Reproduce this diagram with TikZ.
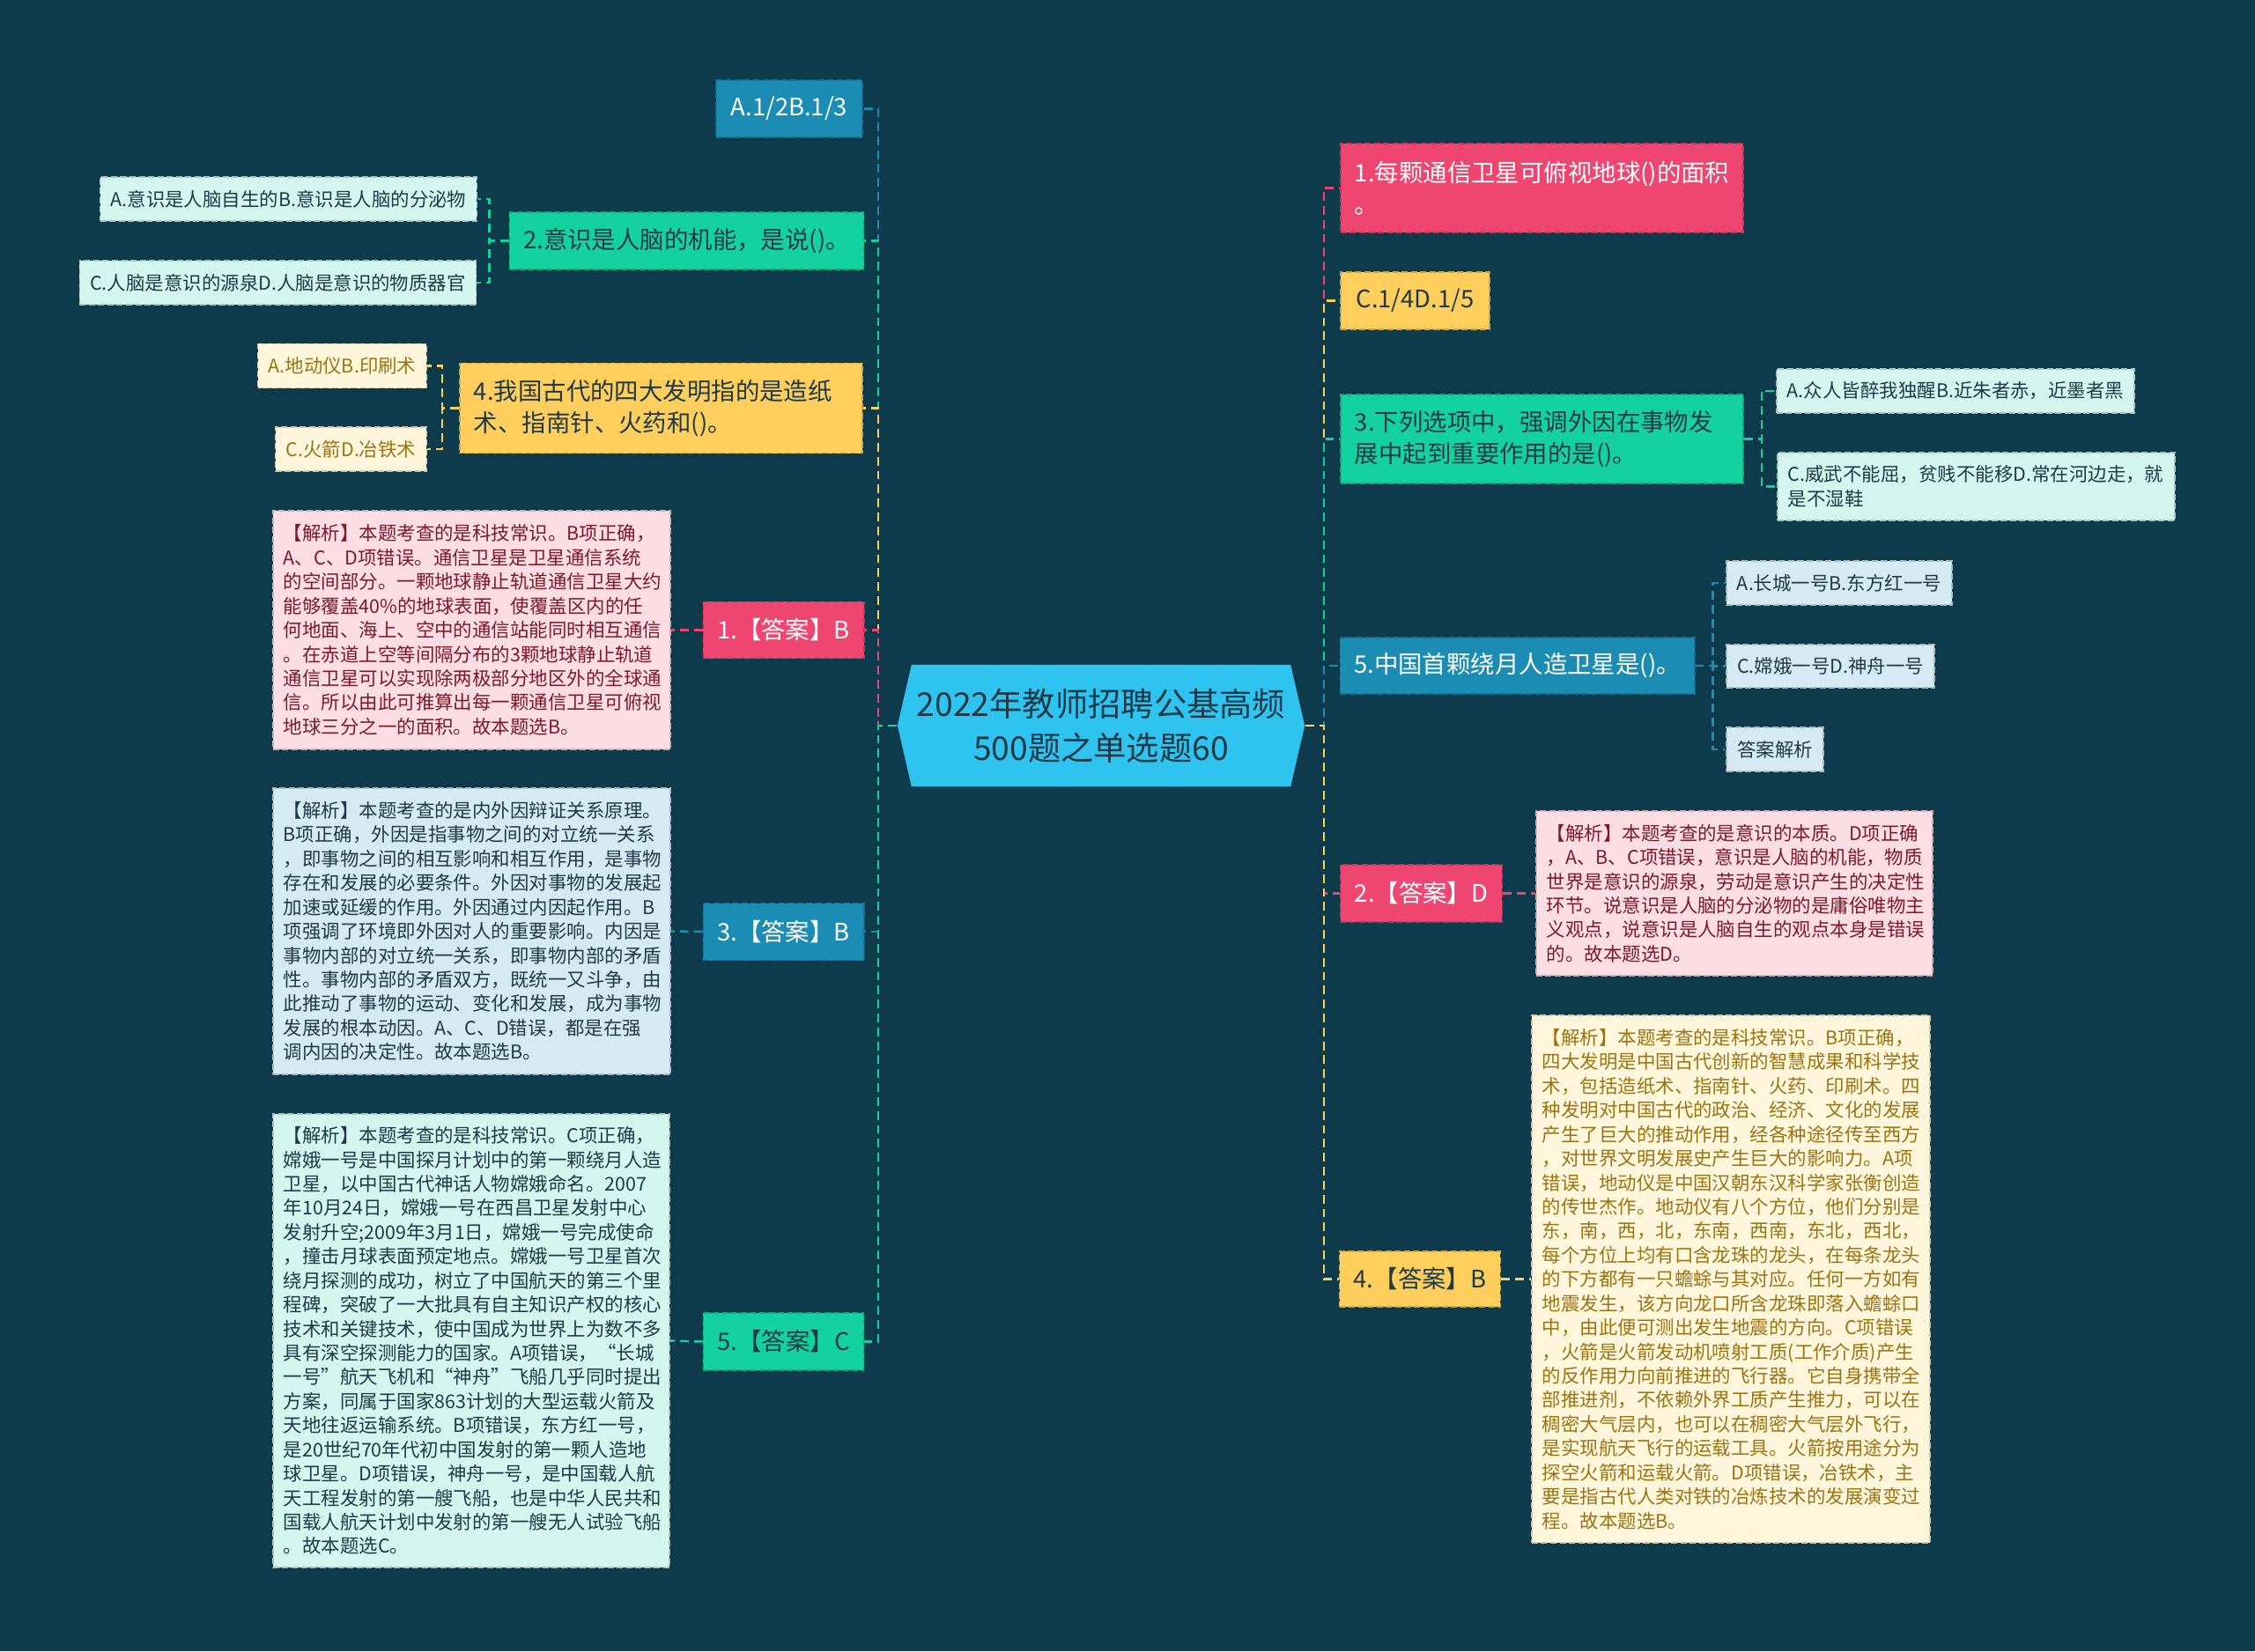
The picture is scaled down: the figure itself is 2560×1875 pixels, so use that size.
\documentclass[tikz,border=0pt]{standalone}
\usepackage{fontspec}
\setmainfont{Noto Sans CJK SC}
\usepackage{xcolor}
\usetikzlibrary{shapes.symbols}

\definecolor{bgc}{HTML}{0E3B4C}
\definecolor{skyc}{HTML}{2FC4F0}
\definecolor{bluec}{HTML}{1B8CB3}
\definecolor{greenc}{HTML}{14D29F}
\definecolor{yellowc}{HTML}{FFCF5E}
\definecolor{pinkc}{HTML}{EE4670}
\definecolor{mintc}{HTML}{D3F6EE}
\definecolor{lbluec}{HTML}{D4EBF3}
\definecolor{lpinkc}{HTML}{FCDDE4}
\definecolor{creamc}{HTML}{FFF6DC}
\definecolor{inkc}{HTML}{1F3947}
\definecolor{redc}{HTML}{7A1A2C}
\definecolor{brownc}{HTML}{9B7412}

\begin{document}
\begin{tikzpicture}[
  x=0.01cm, y=-0.01cm,
  root/.style    = {shape=signal, signal to=west and east, signal pointer angle=154,
                    fill=skyc, text=inkc, align=center, inner sep=0pt,
                    font=\fontsize{10.6pt}{14.2pt}\selectfont,
                    minimum width=4.62cm, minimum height=1.38cm},
  box/.style     = {rectangle, fill=#1, draw=#1!80!black, line width=0.4pt,
                    dash pattern=on 2pt off 1pt, inner xsep=0.16cm, inner ysep=0pt,
                    align=left, font=\fontsize{7.8pt}{10.4pt}\selectfont},
  qpink/.style   = {box=pinkc, text=white},
  qblue/.style   = {box=bluec, text=white},
  qgreen/.style  = {box=greenc, text=inkc},
  qyellow/.style = {box=yellowc, text=inkc},
  leaf/.style    = {rectangle, fill=#1, draw=#1!80!black, line width=0.4pt,
                    dash pattern=on 2pt off 1pt, inner xsep=0.12cm, inner ysep=0pt,
                    align=left, font=\fontsize{6.1pt}{7.8pt}\selectfont},
  link/.style    = {draw=#1, line width=0.7pt, dash pattern=on 2.8pt off 1.7pt},
]

\fill[bgc] (0,0) rectangle (2560,1875);

\node[root] (root) at (1250,824) {2022年教师招聘公基高频\\500题之单选题60};

% left side
\node[qblue, minimum width=1.66cm, minimum height=0.65cm] (nA12) at (896,123.5) {A.1/2B.1/3};
\node[qgreen, minimum width=3.99cm, minimum height=0.65cm] (q2) at (779.5,273.5) {2.意识是人脑的机能，是说()。};
\node[qyellow, text width=4.25cm, minimum height=1.02cm] (q4) at (750.5,463.5)
  {4.我国古代的四大发明指的是造纸\\术、指南针、火药和()。};
\node[qpink, minimum width=1.79cm, minimum height=0.64cm] (a1) at (889.5,715.5) {1.【答案】B};
\node[qblue, minimum width=1.79cm, minimum height=0.65cm] (a3) at (889.5,1058) {3.【答案】B};
\node[qgreen, minimum width=1.79cm, minimum height=0.65cm] (a5) at (889.5,1523.5) {5.【答案】C};

\node[leaf=mintc, text=inkc, minimum width=4.25cm, minimum height=0.5cm] (q2a) at (327.5,226) {A.意识是人脑自生的B.意识是人脑的分泌物};
\node[leaf=mintc, text=inkc, minimum width=4.49cm, minimum height=0.5cm] (q2b) at (315.5,321) {C.人脑是意识的源泉D.人脑是意识的物质器官};
\node[leaf=creamc, text=brownc, minimum width=1.91cm, minimum height=0.5cm] (q4a) at (388.5,415.5) {A.地动仪B.印刷术};
\node[leaf=creamc, text=brownc, minimum width=1.71cm, minimum height=0.5cm] (q4b) at (398.5,510) {C.火箭D.冶铁术};

\node[leaf=lpinkc, text=redc, text width=4.27cm, minimum height=2.71cm] (e1) at (535.5,715.5)
  {【解析】本题考查的是科技常识。B项正确，\\
   A、C、D项错误。通信卫星是卫星通信系统\\
   的空间部分。一颗地球静止轨道通信卫星大约\\
   能够覆盖40\%的地球表面，使覆盖区内的任\\
   何地面、海上、空中的通信站能同时相互通信\\
   。在赤道上空等间隔分布的3颗地球静止轨道\\
   通信卫星可以实现除两极部分地区外的全球通\\
   信。所以由此可推算出每一颗通信卫星可俯视\\
   地球三分之一的面积。故本题选B。};
\node[leaf=lbluec, text=inkc, text width=4.27cm, minimum height=3.25cm] (e3) at (535.5,1057.5)
  {【解析】本题考查的是内外因辩证关系原理。\\
   B项正确，外因是指事物之间的对立统一关系\\
   ，即事物之间的相互影响和相互作用，是事物\\
   存在和发展的必要条件。外因对事物的发展起\\
   加速或延缓的作用。外因通过内因起作用。B\\
   项强调了环境即外因对人的重要影响。内因是\\
   事物内部的对立统一关系，即事物内部的矛盾\\
   性。事物内部的矛盾双方，既统一又斗争，由\\
   此推动了事物的运动、变化和发展，成为事物\\
   发展的根本动因。A、C、D错误，都是在强\\
   调内因的决定性。故本题选B。};
\node[leaf=mintc, text=inkc, text width=4.26cm, minimum height=5.15cm] (e5) at (535,1522.5)
  {【解析】本题考查的是科技常识。C项正确，\\
   嫦娥一号是中国探月计划中的第一颗绕月人造\\
   卫星，以中国古代神话人物嫦娥命名。2007\\
   年10月24日，嫦娥一号在西昌卫星发射中心\\
   发射升空;2009年3月1日，嫦娥一号完成使命\\
   ，撞击月球表面预定地点。嫦娥一号卫星首次\\
   绕月探测的成功，树立了中国航天的第三个里\\
   程碑，突破了一大批具有自主知识产权的核心\\
   技术和关键技术，使中国成为世界上为数不多\\
   具有深空探测能力的国家。A项错误，“长城\\
   一号”航天飞机和“神舟”飞船几乎同时提出\\
   方案，同属于国家863计划的大型运载火箭及\\
   天地往返运输系统。B项错误，东方红一号，\\
   是20世纪70年代初中国发射的第一颗人造地\\
   球卫星。D项错误，神舟一号，是中国载人航\\
   天工程发射的第一艘飞船，也是中华人民共和\\
   国载人航天计划中发射的第一艘无人试验飞船\\
   。故本题选C。};

% right side
\node[qpink, text width=4.25cm, minimum height=1.01cm] (r1) at (1750.5,213.5)
  {1.每颗通信卫星可俯视地球()的面积\\。};
\node[qyellow, minimum width=1.69cm, minimum height=0.65cm] (r2) at (1606.5,341.5) {C.1/4D.1/5};
\node[qgreen, text width=4.25cm, minimum height=1.01cm] (r3) at (1750.5,498.5)
  {3.下列选项中，强调外因在事物发\\展中起到重要作用的是()。};
\node[qblue, minimum width=3.99cm, minimum height=0.64cm] (r5) at (1722.5,756) {5.中国首颗绕月人造卫星是()。};
\node[qpink, minimum width=1.81cm, minimum height=0.65cm] (rA2) at (1613.5,1014.5) {2.【答案】D};
\node[qyellow, minimum width=1.80cm, minimum height=0.63cm] (rA4) at (1612,1452.5) {4.【答案】B};

\node[leaf=mintc, text=inkc, minimum width=4.04cm, minimum height=0.5cm] (r3a) at (2220,444) {A.众人皆醉我独醒B.近朱者赤，近墨者黑};
\node[leaf=mintc, text=inkc, text width=4.27cm, minimum height=0.77cm] (r3b) at (2243.5,552.5)
  {C.威武不能屈，贫贱不能移D.常在河边走，就\\是不湿鞋};
\node[leaf=lbluec, text=inkc, minimum width=2.54cm, minimum height=0.5cm] (r5a) at (2088,662) {A.长城一号B.东方红一号};
\node[leaf=lbluec, text=inkc, minimum width=2.34cm, minimum height=0.49cm] (r5b) at (2078,756.5) {C.嫦娥一号D.神舟一号};
\node[leaf=lbluec, text=inkc, minimum width=1.08cm, minimum height=0.5cm] (r5c) at (2015,851) {答案解析};

\node[leaf=lpinkc, text=redc, text width=4.26cm, minimum height=1.87cm] (eD) at (1969,1014.5)
  {【解析】本题考查的是意识的本质。D项正确\\
   ，A、B、C项错误，意识是人脑的机能，物质\\
   世界是意识的源泉，劳动是意识产生的决定性\\
   环节。说意识是人脑的分泌物的是庸俗唯物主\\
   义观点，说意识是人脑自生的观点本身是错误\\
   的。故本题选D。};
\node[leaf=creamc, text=brownc, text width=4.28cm, minimum height=5.99cm] (eB) at (1965,1452.5)
  {【解析】本题考查的是科技常识。B项正确，\\
   四大发明是中国古代创新的智慧成果和科学技\\
   术，包括造纸术、指南针、火药、印刷术。四\\
   种发明对中国古代的政治、经济、文化的发展\\
   产生了巨大的推动作用，经各种途径传至西方\\
   ，对世界文明发展史产生巨大的影响力。A项\\
   错误，地动仪是中国汉朝东汉科学家张衡创造\\
   的传世杰作。地动仪有八个方位，他们分别是\\
   东，南，西，北，东南，西南，东北，西北，\\
   每个方位上均有口含龙珠的龙头，在每条龙头\\
   的下方都有一只蟾蜍与其对应。任何一方如有\\
   地震发生，该方向龙口所含龙珠即落入蟾蜍口\\
   中，由此便可测出发生地震的方向。C项错误\\
   ，火箭是火箭发动机喷射工质(工作介质)产生\\
   的反作用力向前推进的飞行器。它自身携带全\\
   部推进剂，不依赖外界工质产生推力，可以在\\
   稠密大气层内，也可以在稠密大气层外飞行，\\
   是实现航天飞行的运载工具。火箭按用途分为\\
   探空火箭和运载火箭。D项错误，冶铁术，主\\
   要是指古代人类对铁的冶炼技术的发展演变过\\
   程。故本题选B。};

% trunk links
\coordinate (lj) at (997,824);
\coordinate (rj) at (1503,824);
\draw[link=bluec]   (root.west) -- (lj) |- (nA12.east);
\draw[link=greenc]  (root.west) -- (lj) |- (q2.east);
\draw[link=yellowc] (root.west) -- (lj) |- (q4.east);
\draw[link=pinkc]   (root.west) -- (lj) |- (a1.east);
\draw[link=bluec]   (root.west) -- (lj) |- (a3.east);
\draw[link=greenc]  (root.west) -- (lj) |- (a5.east);
\draw[link=pinkc]   (root.east) -- (rj) |- (r1.west);
\draw[link=yellowc] (root.east) -- (rj) |- (r2.west);
\draw[link=greenc]  (root.east) -- (rj) |- (r3.west);
\draw[link=bluec]   (root.east) -- (rj) |- (r5.west);
\draw[link=pinkc]   (root.east) -- (rj) |- (rA2.west);
\draw[link=yellowc] (root.east) -- (rj) |- (rA4.west);

% leaf links
\draw[link=greenc]  (q2.west) -- ++(-22,0) |- (q2a.east);
\draw[link=greenc]  (q2.west) -- ++(-22,0) |- (q2b.east);
\draw[link=yellowc] (q4.west) -- ++(-19,0) |- (q4a.east);
\draw[link=yellowc] (q4.west) -- ++(-19,0) |- (q4b.east);
\draw[link=pinkc]   (a1.west) -- (e1.east);
\draw[link=bluec]   (a3.west) -- (e3.east);
\draw[link=greenc]  (a5.west) -- (e5.east);
\draw[link=greenc]  (r3.east) -- ++(20,0) |- (r3a.west);
\draw[link=greenc]  (r3.east) -- ++(20,0) |- (r3b.west);
\draw[link=bluec]   (r5.east) -- ++(20,0) |- (r5a.west);
\draw[link=bluec]   (r5.east) -- ++(20,0) |- (r5b.west);
\draw[link=bluec]   (r5.east) -- ++(20,0) |- (r5c.west);
\draw[link=pinkc]   (rA2.east) -- (eD.west);
\draw[link=yellowc] (rA4.east) -- (eB.west);

\end{tikzpicture}
\end{document}
